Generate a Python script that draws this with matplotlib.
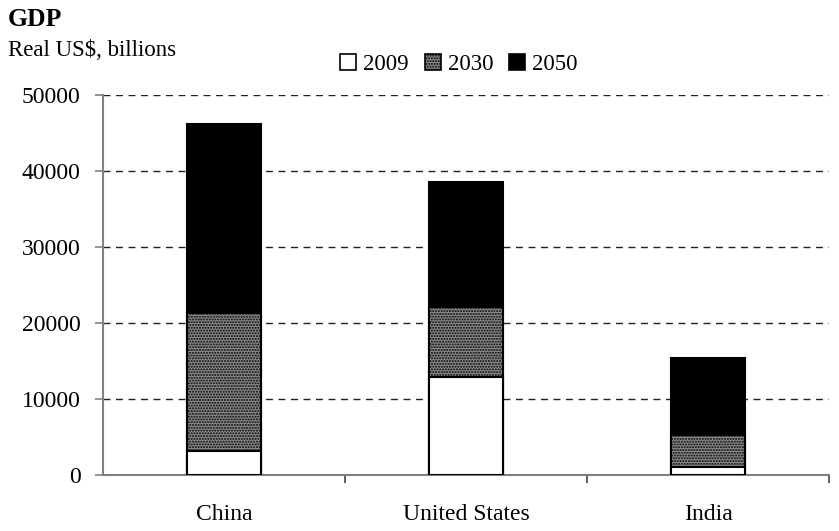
import numpy as np
import matplotlib.pyplot as plt
from matplotlib.patches import Patch

plt.rcParams["font.family"] = ["Liberation Serif", "DejaVu Serif"]
plt.rcParams["hatch.linewidth"] = 1.0

# -------------------------------------------------------------------
# DATA (GDP, real US$ billions)
# -------------------------------------------------------------------
countries = ["China", "United States", "India"]
years = ["2009", "2030", "2050"]
gdp_2009 = [3200, 12900, 1000]
gdp_2030 = [21300, 22100, 5300]
gdp_2050 = [46200, 38600, 15400]
yticks = [0, 10000, 20000, 30000, 40000, 50000]

# -------------------------------------------------------------------
# PLOT
# -------------------------------------------------------------------
fig = plt.figure(figsize=(8.39, 5.31), dpi=100)
ax = fig.add_axes([103 / 839, 56 / 531, 726 / 839, 380 / 531])

x = np.arange(len(countries))
w = 0.306
edge = dict(edgecolor="black", linewidth=1.5, zorder=3)

# bars overlap: each year drawn from zero, later years behind
ax.bar(x, gdp_2050, w, facecolor="black", **edge)
ax.bar(x, gdp_2030, w, facecolor="#8c8c8c", hatch="......", **edge)
ax.bar(x, gdp_2009, w, facecolor="white", **edge)

ax.set_xlim(-0.5, 2.5)
ax.set_ylim(0, 50000)
ax.set_yticks(yticks)
ax.set_yticklabels([str(v) for v in yticks], fontsize=17)
for v in yticks[1:]:
    ax.axhline(v, color="#222222", lw=1.0, ls=(0, (5, 4)), zorder=1)

ax.set_xticks(x)
ax.set_xticklabels(countries, fontsize=17)
ax.set_xticks([0.5, 1.5, 2.5], minor=True)
ax.tick_params(axis="x", which="major", length=0, pad=21)
ax.tick_params(axis="x", which="minor", length=6, width=1.2, color="#444444")
ax.tick_params(axis="y", length=6, width=1.2, color="#808080", pad=10)

for s in ["top", "right"]:
    ax.spines[s].set_visible(False)
for s in ["left", "bottom"]:
    ax.spines[s].set_color("#808080")
    ax.spines[s].set_linewidth(1.5)

handles = [
    Patch(facecolor="white", edgecolor="black", lw=1.2),
    Patch(facecolor="#8c8c8c", edgecolor="black", lw=1.2, hatch="......"),
    Patch(facecolor="black", edgecolor="black", lw=1.2),
]
ax.legend(handles, years, loc="center", bbox_to_anchor=(0.49, 1.08), ncol=3,
          frameon=False, fontsize=16.5, handlelength=0.7, handleheight=0.7,
          handletextpad=0.3, columnspacing=0.7)

fig.text(8 / 839, 1 - 19 / 531, "GDP", fontsize=18.5, fontweight="bold",
         va="center", ha="left")
fig.text(8 / 839, 1 - 50 / 531, "Real US$, billions", fontsize=16.5,
         va="center", ha="left")

fig.savefig("out.png", dpi=100)
